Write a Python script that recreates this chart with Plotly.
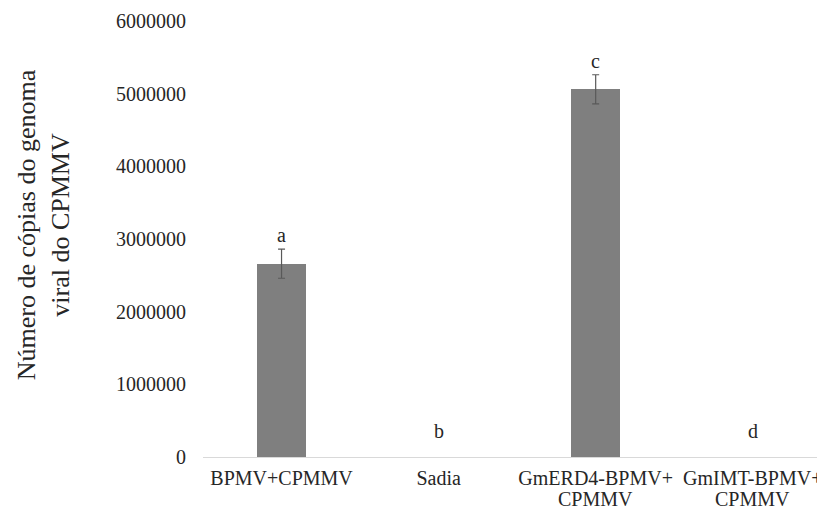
import plotly.graph_objects as go

categories = ["BPMV+CPMMV", "Sadia", "GmERD4-BPMV+<br>CPMMV", "GmIMT-BPMV+<br>CPMMV"]
values = [2660000, 0, 5060000, 0]
errors = [200000, 0, 200000, 0]
letters = ["a", "b", "c", "d"]
y_ticks = [0, 1000000, 2000000, 3000000, 4000000, 5000000, 6000000]

FONT = "Liberation Serif, Times New Roman, serif"
TXT = "#262626"

# the page body has an 8px default margin, so the figure is 8px smaller
fig = go.Figure()
fig.add_trace(go.Bar(
    x=list(range(len(categories))),
    y=values,
    width=0.31,
    marker=dict(color="#7f7f7f", line=dict(width=0)),
    showlegend=False,
))
# error bars only where there is an error (no stray caps on empty bars)
err_idx = [i for i, e in enumerate(errors) if e > 0]
fig.add_trace(go.Scatter(
    x=err_idx, y=[values[i] for i in err_idx], mode="markers",
    marker=dict(size=0.1, color="rgba(0,0,0,0)"),
    error_y=dict(type="data", array=[errors[i] for i in err_idx], visible=True,
                 color="#595959", thickness=1.2, width=3.5),
    showlegend=False, hoverinfo="skip",
))

for i, (v, e, t) in enumerate(zip(values, errors, letters)):
    fig.add_annotation(x=i, y=v + e, xref="x", yref="y", text=t,
                       showarrow=False, yanchor="middle",
                       yshift=14 if v > 0 else 26,
                       font=dict(family=FONT, size=20, color=TXT))

# category labels: first line as tick text, wrapped second line tighter below
first_lines = [c.split("<br>")[0] for c in categories]
for i, c in enumerate(categories):
    parts = c.split("<br>")
    if len(parts) > 1:
        fig.add_annotation(x=i, y=0, xref="x", yref="paper", text=parts[1],
                           showarrow=False, yanchor="middle", yshift=-42,
                           font=dict(family=FONT, size=20, color=TXT))

fig.add_annotation(
    text="Número de cópias do genoma<br>viral do CPMMV",
    xref="paper", yref="paper", x=-0.257, y=0.532,
    xanchor="center", yanchor="middle", textangle=-90, showarrow=False,
    font=dict(family=FONT, size=26, color=TXT),
)

fig.update_layout(
    width=817, height=504,
    margin=dict(l=195, r=0, t=13, b=55, autoexpand=False),
    paper_bgcolor="white", plot_bgcolor="white",
    bargap=0,
    font=dict(family=FONT, size=20, color=TXT),
)
fig.update_xaxes(
    tickmode="array", tickvals=list(range(len(categories))), ticktext=first_lines,
    range=[-0.5, 3.46], showgrid=False, zeroline=False, automargin=False,
    showline=True, linecolor="#d9d9d9", linewidth=1.3, ticks="",
    ticklabelstandoff=3,
    tickfont=dict(family=FONT, size=20, color=TXT),
)
fig.update_yaxes(
    range=[0, 6000000], tickmode="array", tickvals=y_ticks,
    ticktext=[str(v) for v in y_ticks], automargin=False,
    showgrid=False, zeroline=False, showline=False, ticks="",
    ticklabelstandoff=16,
    tickfont=dict(family=FONT, size=20, color=TXT),
)

fig.write_html("out.html")
